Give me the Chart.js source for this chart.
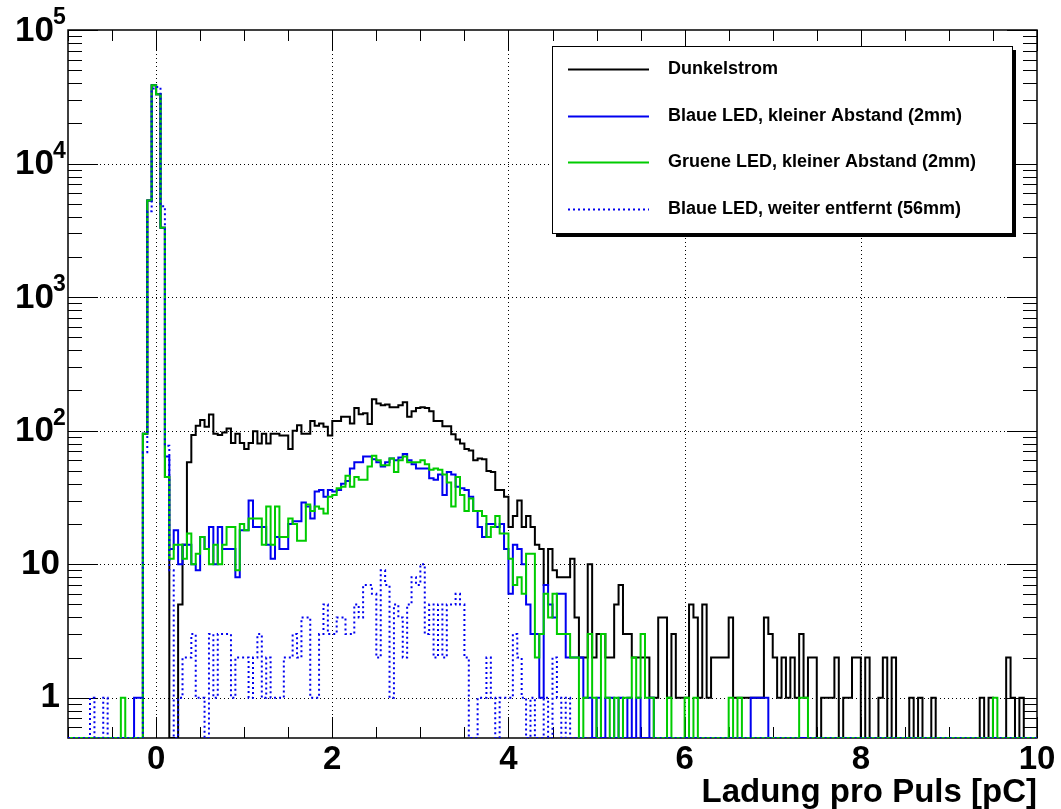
<!DOCTYPE html>
<html lang="de">
<head>
<meta charset="UTF-8">
<title>Ladung pro Puls</title>
<script src="https://cdn.jsdelivr.net/npm/chart.js"></script>
<style>
  html, body { margin: 0; padding: 0; background: #fff; }
  #wrap { position: relative; width: 1061px; height: 809px; }
</style>
</head>
<body>
<div id="wrap"><canvas id="chart"></canvas></div>
<script>
// histogram binning (charge in pC)
const xMin = -1, xMax = 10, binWidth = 0.05;
const yMin = 0.5, yMax = 1e5;

const seriesNames = [
  'Dunkelstrom',
  'Blaue LED, kleiner Abstand (2mm)',
  'Gruene LED, kleiner Abstand (2mm)',
  'Blaue LED, weiter entfernt (56mm)'
];

// counts per bin, 220 bins from -1 to 10 pC
const dunkelstrom = [
  0,0,0,0,0, 0,0,0,0,0, 0,0,0,0,0, 0,0,95,5300,38500,
  33000,3300,45,0,0, 5,14,58,93,109, 120,107,132,95,93, 97,104,81,95,81,
  73,81,99,80,95, 80,95,95,92,92, 73,100,110,95,95, 118,109,113,107,92,
  118,118,127,127,113, 148,133,135,112,172, 160,155,157,150,150, 155,163,127,140,148,
  150,148,140,118,118, 108,108,94,86,80, 73,71,60,62,61, 50,49,36,36,32,
  19,23,30,19,23, 19,14,13,7,13, 9,8,8,8,11, 4,2,2,10,2,
  3,3,2,2,5, 7,3,3,2,2, 2,2,1,1,4, 4,1,3,1,1,
  1,5,4,1,5, 1,2,2,2,2, 4,1,1,1,1, 1,1,1,4,3,
  2,1,2,1,2, 1,3,1,2,2, 0,1,1,1,2, 0,1,1,2,2,
  0,2,0,0,1, 2,0,2,0,0, 0,1,0,1,0, 0,1,0,0,0,
  0,0,0,0,0, 0,0,1,0,1, 0,0,0,2,1, 0,1,0,0,0
];

const blaueNah = [
  0,0,0,0,0, 0,0,0,0,0, 0,0,0,0,0, 1,1,95,5300,38500,
  33000,3300,64,13,18, 10,14,14,10,9, 16,13,19,10,19, 13,13,13,8,18,
  18,30,19,19,19, 14,11,16,13,13, 20,21,21,29,27, 22,35,36,32,36,
  35,36,40,42,52, 58,58,64,64,61, 58,54,58,62,60, 63,67,60,56,52,
  52,52,44,43,47, 33,49,47,38,37, 36,32,25,19,16, 20,20,19,20,13,
  6,14,13,10,5, 3,3,1,7,5, 4,6,6,2,2, 2,2,1,1,0,
  1,0,1,1,0, 1,0,1,0,1, 0,0,1,0,0, 0,0,0,0,0,
  0,0,0,0,0, 0,0,0,0,0, 0,0,0,0,0, 1,1,1,1,0,
  0,0,0,0,0, 0,0,0,0,0, 0,0,0,0,0, 0,0,0,0,0,
  0,0,0,0,0, 0,0,0,0,0, 0,0,0,0,0, 0,0,0,0,0,
  0,0,0,0,0, 0,0,0,0,0, 0,0,0,0,0, 0,0,0,0,0
];

const grueneNah = [
  0,0,0,0,0, 0,0,0,0,0, 0,0,1,0,0, 0,0,95,5300,38500,
  33000,3300,45,11,14, 14,11,17,10,12, 16,13,10,14,10, 14,19,19,9,20,
  18,22,22,22,14, 27,14,27,16,16, 22,20,15,15,28, 25,27,26,24,32,
  33,37,38,46,38, 45,43,43,54,65, 60,55,55,62,49, 60,64,58,58,58,
  60,56,51,52,51, 47,41,27,45,33, 25,31,25,25,23, 16,19,23,17,17,
  11,7,8,6,12, 12,2,3,6,4, 6,3,3,3,2, 2,0,1,3,1,
  0,3,1,0,1, 0,1,1,2,1, 3,1,1,0,0, 0,1,0,0,0,
  1,0,1,0,0, 0,0,0,0,0, 1,0,1,0,0, 0,0,0,0,0,
  0,0,0,0,0, 0,1,1,0,0, 0,0,0,0,0, 0,0,0,0,0,
  0,0,0,0,0, 0,0,0,0,0, 0,0,0,0,0, 0,0,0,0,0,
  0,0,0,0,0, 0,0,0,0,0, 1,0,0,0,0, 0,0,0,0,0
];

const blaueFern = [
  0,0,0,0,0, 1,0,0,1,0, 0,0,0,0,0, 0,0,69,4400,36500,
  37400,4800,77,9,0, 1,2,2,3,1, 1,0,3,1,3, 3,3,1,2,2,
  2,1,2,3,1, 2,1,1,1,2, 2,3,2,4,4, 1,1,3,5,3,
  3,4,4,3,3, 5,4,7,7,6, 2,9,7,1,5, 4,2,5,8,7,
  10,3,5,2,5, 2,5,5,6,5, 2,0,0,1,1, 2,1,0,1,1,
  1,3,2,1,0, 1,0,0,1,0, 2,1,0,1,0, 0,0,0,0,0,
  0,0,0,0,0, 0,0,0,0,0, 0,0,0,0,0, 0,0,0,0,0,
  0,0,0,0,0, 0,0,0,0,0, 0,0,0,0,0, 0,0,0,0,0,
  0,0,0,0,0, 0,0,0,0,0, 0,0,0,0,0, 0,0,0,0,0,
  0,0,0,0,0, 0,0,0,0,0, 0,0,0,0,0, 0,0,0,0,0,
  0,0,0,0,0, 0,0,0,0,0, 0,0,0,0,0, 0,0,0,0,0
];

// axis ticks
const xTickValues = [-1,-0.5,0,0.5,1,1.5,2,2.5,3,3.5,4,4.5,5,5.5,6,6.5,7,7.5,8,8.5,9,9.5,10];
const xLabelValues = [0,2,4,6,8,10];
const xGridValues = [0,2,4,6,8];
const yDecades = [1,10,100,1000,10000,100000];
const yMinorValues = [0.6,0.7,0.8,0.9];
const yGridValues = [1,10,100,1000,10000];

const FONT = '"Liberation Sans", Arial, Helvetica, sans-serif';

// zero bins sit on the bottom of the log frame, as in ROOT
function histPoints(counts) {
  const pts = counts.map((c, i) => ({ x: xMin + i * binWidth, y: Math.max(c, yMin) }));
  pts.push({ x: xMax, y: Math.max(counts[counts.length - 1], yMin) });
  return pts;
}

function yTickList() {
  const list = yMinorValues.map(v => ({ value: v, major: false }));
  yDecades.forEach(d => {
    list.push({ value: d, major: true });
    if (d < yMax) {
      for (let m = 2; m <= 9; m++) list.push({ value: m * d, major: false });
    }
  });
  return list;
}

const framePlugin = {
  id: 'rootFrame',
  beforeDatasetsDraw(chart) {
    const { ctx, chartArea: a, scales: { x, y } } = chart;
    ctx.save();
    // dotted grid
    ctx.strokeStyle = '#000';
    ctx.lineWidth = 1;
    ctx.setLineDash([1, 3]);
    ctx.beginPath();
    xGridValues.forEach(v => {
      const px = Math.round(x.getPixelForValue(v)) + 0.5;
      ctx.moveTo(px, a.top); ctx.lineTo(px, a.bottom);
    });
    yGridValues.forEach(v => {
      const py = Math.round(y.getPixelForValue(v)) + 0.5;
      ctx.moveTo(a.left, py); ctx.lineTo(a.right, py);
    });
    ctx.stroke();
    ctx.setLineDash([]);
    // tick marks inside the frame, all four sides
    ctx.beginPath();
    x.ticks.forEach(t => {
      const px = Math.round(x.getPixelForValue(t.value)) + 0.5;
      const len = xLabelValues.includes(t.value) ? 21 : 11;
      ctx.moveTo(px, a.bottom); ctx.lineTo(px, a.bottom - len);
      ctx.moveTo(px, a.top); ctx.lineTo(px, a.top + len);
    });
    y.ticks.forEach(t => {
      const py = Math.round(y.getPixelForValue(t.value)) + 0.5;
      const len = t.major ? 30 : 14;
      ctx.moveTo(a.left, py); ctx.lineTo(a.left + len, py);
      ctx.moveTo(a.right, py); ctx.lineTo(a.right - len, py);
    });
    ctx.stroke();
    ctx.lineWidth = 1.5;
    ctx.strokeRect(a.left, a.top, a.right - a.left, a.bottom - a.top);
    ctx.restore();
  }
};

// decade labels with raised exponents, placed from the y scale
const yLabelPlugin = {
  id: 'rootYLabels',
  afterDraw(chart) {
    const { ctx, chartArea: a, scales: { y } } = chart;
    ctx.save();
    ctx.fillStyle = '#000';
    ctx.textBaseline = 'middle';
    yDecades.forEach(d => {
      const py = y.getPixelForValue(d);
      const exp = Math.round(Math.log10(d));
      ctx.textAlign = 'right';
      ctx.font = 'bold 35px ' + FONT;
      if (exp < 2) {
        ctx.fillText(String(d), a.left - 8, py);
      } else {
        ctx.fillText('10', a.left - 14, py + 1);
        ctx.font = 'bold 23px ' + FONT;
        ctx.textAlign = 'left';
        ctx.fillText(String(exp), a.left - 15, py - 12);
      }
    });
    ctx.restore();
  }
};

const legendPlugin = {
  id: 'rootLegend',
  afterDraw(chart) {
    const { ctx, chartArea: a } = chart;
    const bx = a.right - 485, by = a.top + 16, bw = 460, bh = 187;
    ctx.save();
    ctx.fillStyle = '#000';
    ctx.fillRect(bx + 4, by + 4, bw, bh);
    ctx.fillStyle = '#fff';
    ctx.fillRect(bx, by, bw, bh);
    ctx.strokeStyle = '#000';
    ctx.lineWidth = 1;
    ctx.strokeRect(bx + 0.5, by + 0.5, bw, bh);
    ctx.font = 'bold 18px ' + FONT;
    ctx.textBaseline = 'middle';
    ctx.textAlign = 'left';
    const order = [3, 2, 1, 0];
    order.forEach((di, row) => {
      const ds = chart.data.datasets[di];
      const ry = Math.round(by + 23 + row * 46.7) + 0.5;
      ctx.strokeStyle = ds.borderColor;
      ctx.lineWidth = ds.borderWidth;
      ctx.setLineDash(ds.borderDash || []);
      ctx.beginPath();
      ctx.moveTo(bx + 16, ry); ctx.lineTo(bx + 97, ry);
      ctx.stroke();
      ctx.setLineDash([]);
      ctx.fillStyle = '#000';
      ctx.fillText(ds.label, bx + 116, ry);
    });
    ctx.restore();
  }
};

function histDataset(label, counts, color, dash) {
  return {
    label: label,
    data: histPoints(counts),
    borderColor: color,
    borderWidth: 2,
    borderDash: dash,
    stepped: 'before',
    pointRadius: 0,
    fill: false,
    tension: 0
  };
}

const ctx = document.getElementById('chart').getContext('2d');
new Chart(ctx, {
  type: 'line',
  data: {
    // first dataset is drawn on top
    datasets: [
      histDataset(seriesNames[3], blaueFern, '#0000f0', [2, 3]),
      histDataset(seriesNames[2], grueneNah, '#00cc00', []),
      histDataset(seriesNames[1], blaueNah, '#0000f0', []),
      histDataset(seriesNames[0], dunkelstrom, '#000000', [])
    ]
  },
  options: {
    responsive: true,
    maintainAspectRatio: false,
    animation: false,
    layout: { padding: { top: 30, right: 24, left: 0, bottom: 0 } },
    plugins: {
      legend: { display: false },
      tooltip: { enabled: false }
    },
    scales: {
      x: {
        type: 'linear',
        min: xMin,
        max: xMax,
        grid: { display: false, drawTicks: false },
        border: { display: false },
        afterBuildTicks: s => { s.ticks = xTickValues.map(v => ({ value: v })); },
        afterFit: s => { s.height = 71; },
        ticks: {
          autoSkip: false,
          maxRotation: 0,
          padding: 2,
          color: '#000',
          font: { family: FONT, size: 33, weight: 'bold' },
          callback: v => (xLabelValues.includes(v) ? String(v) : '')
        },
        title: {
          display: true,
          text: 'Ladung pro Puls [pC]',
          align: 'end',
          color: '#000',
          padding: { top: 0, bottom: 0 },
          font: { family: FONT, size: 33, weight: 'bold', lineHeight: 1.0 }
        }
      },
      y: {
        type: 'logarithmic',
        min: yMin,
        max: yMax,
        grid: { display: false, drawTicks: false },
        border: { display: false },
        afterBuildTicks: s => { s.ticks = yTickList(); },
        afterFit: s => { s.width = 68; },
        ticks: { display: false, autoSkip: false }
      }
    }
  },
  plugins: [framePlugin, yLabelPlugin, legendPlugin]
});
</script>
</body>
</html>
